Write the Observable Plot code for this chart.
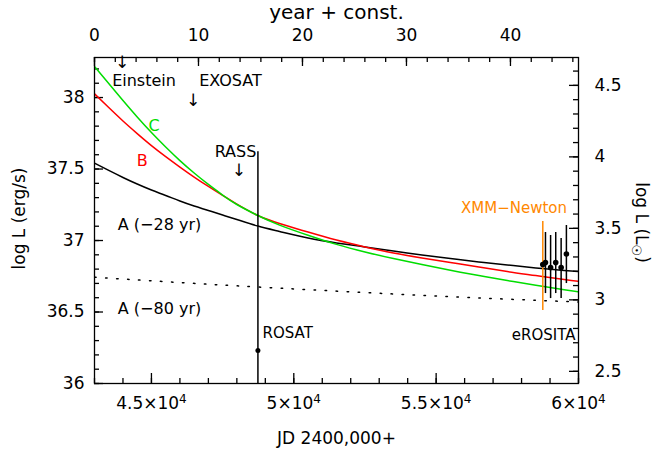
<!DOCTYPE html>
<html><head><meta charset="utf-8">
<script src="https://cdn.jsdelivr.net/npm/d3@7"></script>
<script src="https://cdn.jsdelivr.net/npm/@observablehq/plot@0.6"></script>
<style>
body{margin:0;background:#fff;}
</style></head><body><div id="chart"></div>
<script>
// ---- data ----
const curveJD = [43000,43500,44000,44500,45000,45500,46000,46500,47000,47500,48000,48740,49500,50500,51500,52500,53500,54500,55500,56500,57500,58500,59500,60000];
const curveC = [38.217,38.098,37.979,37.864,37.755,37.654,37.559,37.472,37.392,37.318,37.252,37.175,37.108,37.037,36.973,36.920,36.874,36.832,36.792,36.755,36.720,36.687,36.656,36.641];
const curveB = [38.026,37.930,37.836,37.748,37.664,37.587,37.514,37.444,37.378,37.315,37.255,37.175,37.119,37.059,37.003,36.955,36.913,36.878,36.846,36.815,36.783,36.755,36.727,36.715];
const curveA28 = [37.541,37.490,37.441,37.395,37.353,37.315,37.276,37.241,37.210,37.178,37.147,37.101,37.063,37.017,36.983,36.955,36.927,36.899,36.874,36.850,36.829,36.808,36.790,36.783];
const dottedJD = [43000,46000,48740,52500,56200,60000];
const curveA80 = [36.743,36.706,36.675,36.636,36.601,36.570];

const rosatJD = [48740], rosatL = [36.23], rosatLo = [36.0], rosatHi = [37.62];
const xmmJD = [58746], xmmL = [36.832], xmmLo = [36.51], xmmHi = [37.133];
const eroJD = [58840,59020,59200,59390,59575];
const eroL  = [36.846,36.811,36.846,36.811,36.906];
const eroLo = [36.629,36.594,36.629,36.594,36.699];
const eroHi = [37.056,37.035,37.056,37.014,37.105];

const missionNames = ["Einstein","EXOSAT","RASS"];
const missionJD = [44739,47777,47952];
const missionL = [38.119,38.119,37.622];
const arrowJD = [43973,46467,48068];
const arrowL = [38.245,37.979,37.490];
const curveNames = ["C","B","A (−28 yr)","A (−80 yr)"];
const curveNameColors = ["#00dd00","#ff0000","#000000","#000000"];
const curveNameJD = [45090,44675,45283,45283];
const curveNameL = [37.804,37.559,37.112,36.524];
const instNames = ["ROSAT","XMM−Newton","eROSITA"];
const instJD = [48901,57734,59894];
const instL = [36.35,37.224,36.336];
const instAnchor = ["start","middle","end"];
const instColors = ["#000000","#ff8800","#000000"];

const bottomTicks = [45000,50000,55000,60000];
const bottomTickBase = ["4.5×10","5×10","5.5×10","6×10"];
const bottomTickExp = ["4","4","4","4"];
const bottomMinor = d3.range(43000,60001,1000);
const yearTicks = [0,10,20,30,40];
const yearMinor = d3.range(0,47,2);
const leftTicks = [36,36.5,37,37.5,38];
const leftMinor = d3.range(0,23).map(i=>36+i*0.1);
const rightTicks = [2.5,3,3.5,4,4.5];
const rightMinor = d3.range(0,22).map(i=>2.5+i*0.1);
const LSUN = 33.585;
const JD0 = 43000, YEAR = 365.25;

// ---- build ----
const line = (ys, xs) => xs.map((x,i)=>({jd:x, L:ys[i]}));
const H = 326, W = 484;
const toJD = y => JD0 + y*YEAR;
const ero = eroJD.map((x,i)=>({jd:x, L:eroL[i], lo:eroLo[i], hi:eroHi[i]}));
const rosat = rosatJD.map((x,i)=>({jd:x, L:rosatL[i], lo:rosatLo[i], hi:rosatHi[i]}));
const xmm = xmmJD.map((x,i)=>({jd:x, L:xmmL[i], lo:xmmLo[i], hi:xmmHi[i]}));
const bottomLabel = d => { const i = bottomTicks.indexOf(d); return bottomTickBase[i] + "^" + bottomTickExp[i]; };

const plot = Plot.plot({
  width: 654, height: 450,
  marginLeft: 94, marginRight: 76, marginTop: 57, marginBottom: 67,
  x: {domain: [43000, 60000]},
  y: {domain: [36, 38.28]},
  style: {fontFamily: "'DejaVu Sans', sans-serif", fontSize: "17px", background: "white", color: "black"},
  marks: [
    // tick marks (inward)
    Plot.ruleX(bottomTicks, {x: d=>d, insetTop: H-10, strokeWidth: 1.3}),
    Plot.ruleX(bottomMinor, {x: d=>d, insetTop: H-5, strokeWidth: 1.3}),
    Plot.ruleX(yearTicks.map(toJD), {x: d=>d, insetBottom: H-9, strokeWidth: 1.3}),
    Plot.ruleX(yearMinor.map(toJD), {x: d=>d, insetBottom: H-5, strokeWidth: 1.3}),
    Plot.ruleY(leftTicks, {y: d=>d, insetRight: W-9, strokeWidth: 1.3}),
    Plot.ruleY(leftMinor, {y: d=>d, insetRight: W-5, strokeWidth: 1.3}),
    Plot.ruleY(rightTicks.map(v=>v+LSUN), {y: d=>d, insetLeft: W-9, strokeWidth: 1.3}),
    Plot.ruleY(rightMinor.map(v=>v+LSUN), {y: d=>d, insetLeft: W-5, strokeWidth: 1.3}),
    // axes labels
    Plot.axisX({anchor: "bottom", ticks: bottomTicks, tickFormat: bottomLabel, tickSize: 0, tickPadding: 13, label: null}),
    Plot.axisX({anchor: "top", ticks: yearTicks.map(toJD), tickFormat: d => String(Math.round((d-JD0)/YEAR)), tickSize: 0, tickPadding: 17, label: null}),
    Plot.axisY({anchor: "left", ticks: leftTicks, tickFormat: d => String(d), tickSize: 0, tickPadding: 10, label: null}),
    Plot.axisY({anchor: "right", ticks: rightTicks.map(v=>v+LSUN), tickFormat: d => String(Math.round((d-LSUN)*10)/10), tickSize: 0, tickPadding: 16, label: null}),
    Plot.text(["JD 2400,000+"], {text: d=>d, frameAnchor: "bottom", dy: 55, textAnchor: "middle", lineAnchor: "middle"}),
    Plot.text(["year + const."], {text: d=>d, frameAnchor: "top", dy: -45, fontSize: 20, textAnchor: "middle", lineAnchor: "middle"}),
    Plot.text(["log L (erg/s)"], {text: d=>d, frameAnchor: "left", dx: -75, dy: -2, rotate: -90, textAnchor: "middle", lineAnchor: "middle"}),
    Plot.text(["log L (L☉)"], {text: d=>d, frameAnchor: "right", dx: 63, dy: 2, rotate: 90, textAnchor: "middle", lineAnchor: "middle"}),
    // curves
    Plot.line(line(curveA80, dottedJD), {x: "jd", y: "L", stroke: "black", strokeWidth: 1.5, strokeDasharray: "1.5,9.5", curve: "natural", clip: true}),
    Plot.line(line(curveA28, curveJD), {x: "jd", y: "L", stroke: "black", strokeWidth: 1.5, curve: "natural", clip: true}),
    Plot.line(line(curveB, curveJD), {x: "jd", y: "L", stroke: "#ff0000", strokeWidth: 1.5, curve: "natural", clip: true}),
    Plot.line(line(curveC, curveJD), {x: "jd", y: "L", stroke: "#00dd00", strokeWidth: 1.5, curve: "natural", clip: true}),
    // observations
    Plot.ruleX(rosat, {x: "jd", y1: "lo", y2: "hi", stroke: "black", strokeWidth: 1.5}),
    Plot.dot(rosat, {x: "jd", y: "L", r: 2.5, fill: "black"}),
    Plot.ruleX(xmm, {x: "jd", y1: "lo", y2: "hi", stroke: "#ff8800", strokeWidth: 1.5}),
    Plot.dot(xmm, {x: "jd", y: "L", r: 2.8, fill: "black"}),
    Plot.ruleX(ero, {x: "jd", y1: "lo", y2: "hi", stroke: "black", strokeWidth: 1.5}),
    Plot.dot(ero, {x: "jd", y: "L", r: 2.8, fill: "black"}),
    // annotations
    Plot.text(missionNames, {x: (d,i)=>missionJD[i], y: (d,i)=>missionL[i], text: d=>d, fontSize: 16}),
    Plot.text(arrowJD, {x: d=>d, y: (d,i)=>arrowL[i], text: ()=>"↓", fontSize: 17}),
    Plot.text(curveNames, {x: (d,i)=>curveNameJD[i], y: (d,i)=>curveNameL[i], text: d=>d, fill: (d,i)=>curveNameColors[i], fontSize: 16}),
    Plot.text(instNames, {x: (d,i)=>instJD[i], y: (d,i)=>instL[i], text: d=>d, fill: (d,i)=>instColors[i], textAnchor: "start", fontSize: 15, filter: (d,i)=>instAnchor[i]==="start"}),
    Plot.text(instNames, {x: (d,i)=>instJD[i], y: (d,i)=>instL[i], text: d=>d, fill: (d,i)=>instColors[i], textAnchor: "middle", fontSize: 15, filter: (d,i)=>instAnchor[i]==="middle"}),
    Plot.text(instNames, {x: (d,i)=>instJD[i], y: (d,i)=>instL[i], text: d=>d, fill: (d,i)=>instColors[i], textAnchor: "end", fontSize: 15, filter: (d,i)=>instAnchor[i]==="end"}),
    Plot.frame({stroke: "black", strokeWidth: 1.3})
  ]
});

// subscript sun symbol and superscript exponents as real text
d3.select(plot).selectAll("text").each(function(){
  const t = d3.select(this);
  const s = this.textContent;
  if (s === "log L (L☉)") {
    t.text(null);
    t.append("tspan").text("log L (L");
    t.append("tspan").attr("dy","0.3em").attr("font-size","13").text("☉");
    t.append("tspan").attr("dy","-0.3em").text(")");
  } else if (/^[0-9.]+×10\^[0-9]+$/.test(s)) {
    const [base, ex] = s.split("^");
    t.text(null);
    t.append("tspan").text(base);
    t.append("tspan").attr("dy","-0.5em").attr("font-size","12").text(ex);
  }
});
document.getElementById("chart").appendChild(plot);
</script></body></html>
